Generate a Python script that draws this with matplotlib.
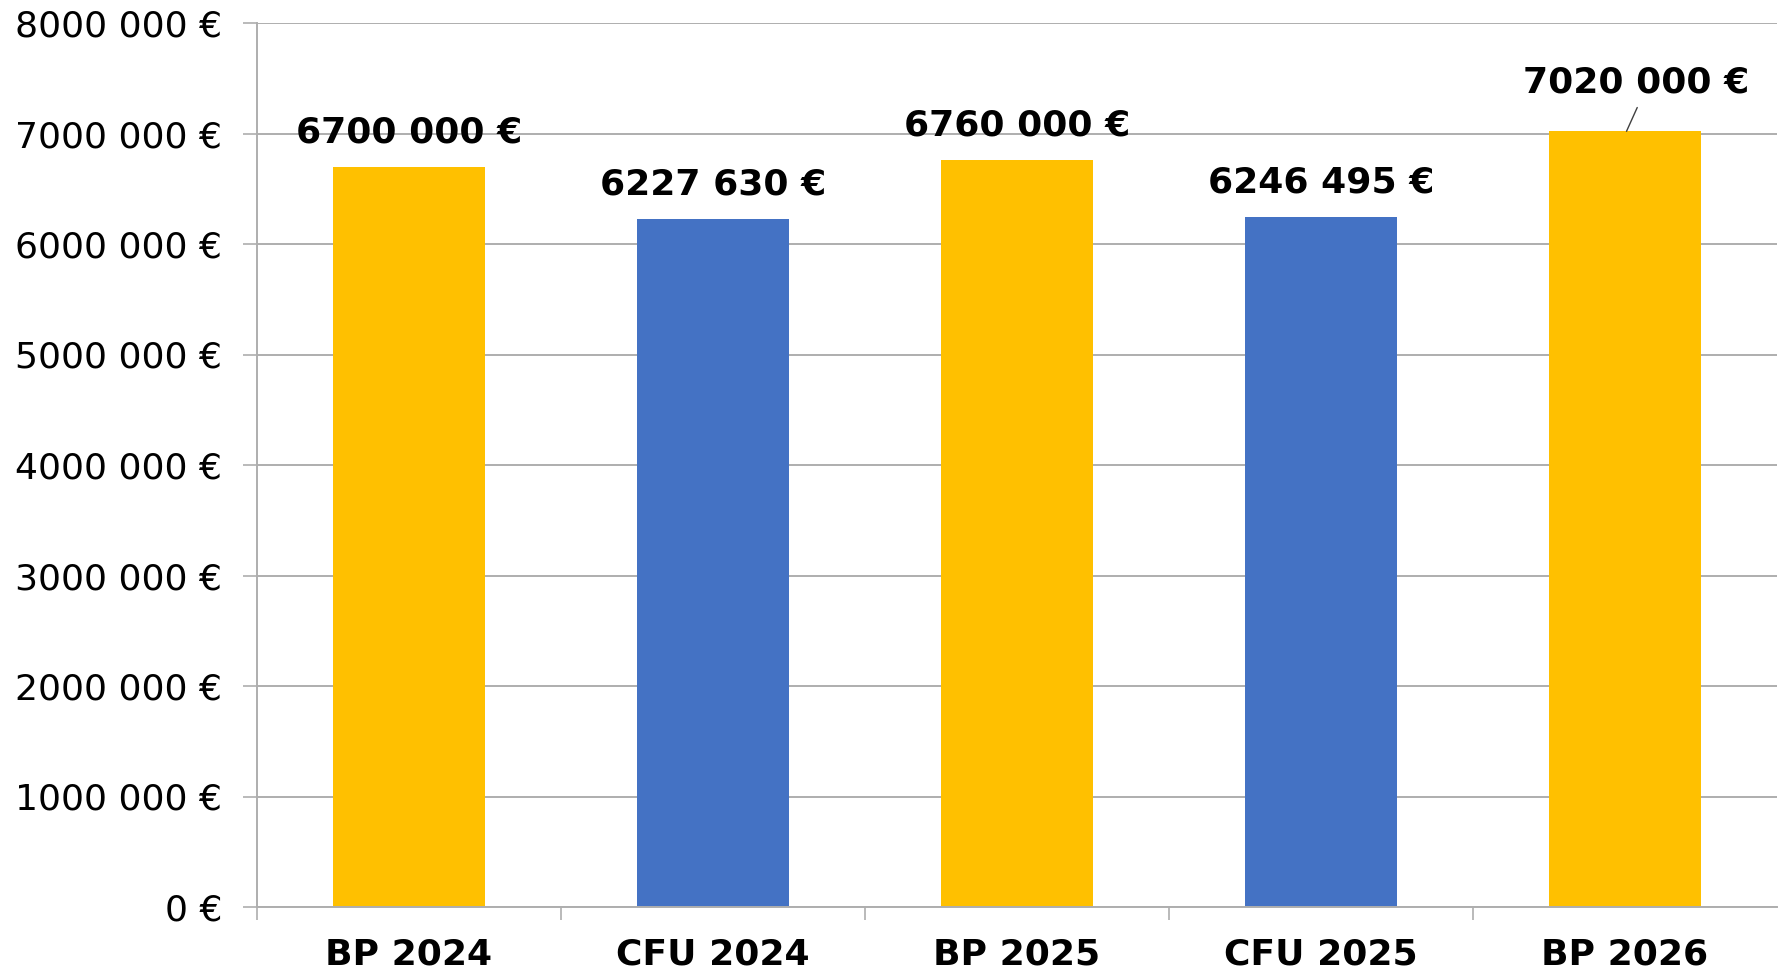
import matplotlib
matplotlib.use("Agg")
import matplotlib.pyplot as plt
from matplotlib.ticker import FixedLocator

categories = ["BP 2024", "CFU 2024", "BP 2025", "CFU 2025", "BP 2026"]
values = [6700000, 6227630, 6760000, 6246495, 7020000]
bar_labels = ["6700 000 €", "6227 630 €", "6760 000 €", "6246 495 €", "7020 000 €"]
colors = ["#FFC000", "#4472C4", "#FFC000", "#4472C4", "#FFC000"]
y_ticks = [0, 1000000, 2000000, 3000000, 4000000, 5000000, 6000000, 7000000, 8000000]
y_tick_labels = ["0 €", "1000 000 €", "2000 000 €", "3000 000 €", "4000 000 €",
                 "5000 000 €", "6000 000 €", "7000 000 €", "8000 000 €"]

plt.rcParams['font.family'] = ['DejaVu Sans']
fig = plt.figure(figsize=(17.85, 9.73), dpi=100)
ax = fig.add_axes([257/1785, 66/973, 1520/1785, 884/973])

x = list(range(len(categories)))
ax.bar(x, values, width=0.5, color=colors, zorder=3)
ax.set_xlim(-0.5, len(categories) - 0.5)
ax.set_ylim(0, 8000000)

grid_c = "#AEAEAE"
ax.set_yticks(y_ticks)
ax.set_yticklabels(y_tick_labels, fontsize=26, color="#000000")
ax.yaxis.grid(True, color=grid_c, lw=1.4, zorder=0)
ax.tick_params(axis='y', length=10, width=1.2, color=grid_c, pad=15)

ax.set_xticks(x)
ax.set_xticklabels(categories, fontsize=26, fontweight='bold')
ax.tick_params(axis='x', which='major', length=0, pad=22)
ax.xaxis.set_minor_locator(FixedLocator([i - 0.5 for i in range(len(categories))]))
ax.tick_params(axis='x', which='minor', length=9.5, width=1.2, color=grid_c)

for s in ['top', 'right']:
    ax.spines[s].set_visible(False)
for s in ['left', 'bottom']:
    ax.spines[s].set_color(grid_c)
    ax.spines[s].set_linewidth(1.4)
    ax.spines[s].set_zorder(4)

for i, (v, lab) in enumerate(zip(values, bar_labels)):
    if i == len(values) - 1:
        ax.annotate(lab, xy=(i + 0.005, v), xytext=(7, 35), textcoords='offset points',
                    ha='center', va='center', fontsize=26, fontweight='bold',
                    arrowprops=dict(arrowstyle='-', color='#404040', lw=1.0,
                                    relpos=(0.52, 0.0), shrinkA=4, shrinkB=0), zorder=5)
    else:
        ax.annotate(lab, xy=(i, v), xytext=(0, 24.5), textcoords='offset points',
                    ha='center', va='center', fontsize=26, fontweight='bold', zorder=5)

fig.savefig("out.png", dpi=100)
